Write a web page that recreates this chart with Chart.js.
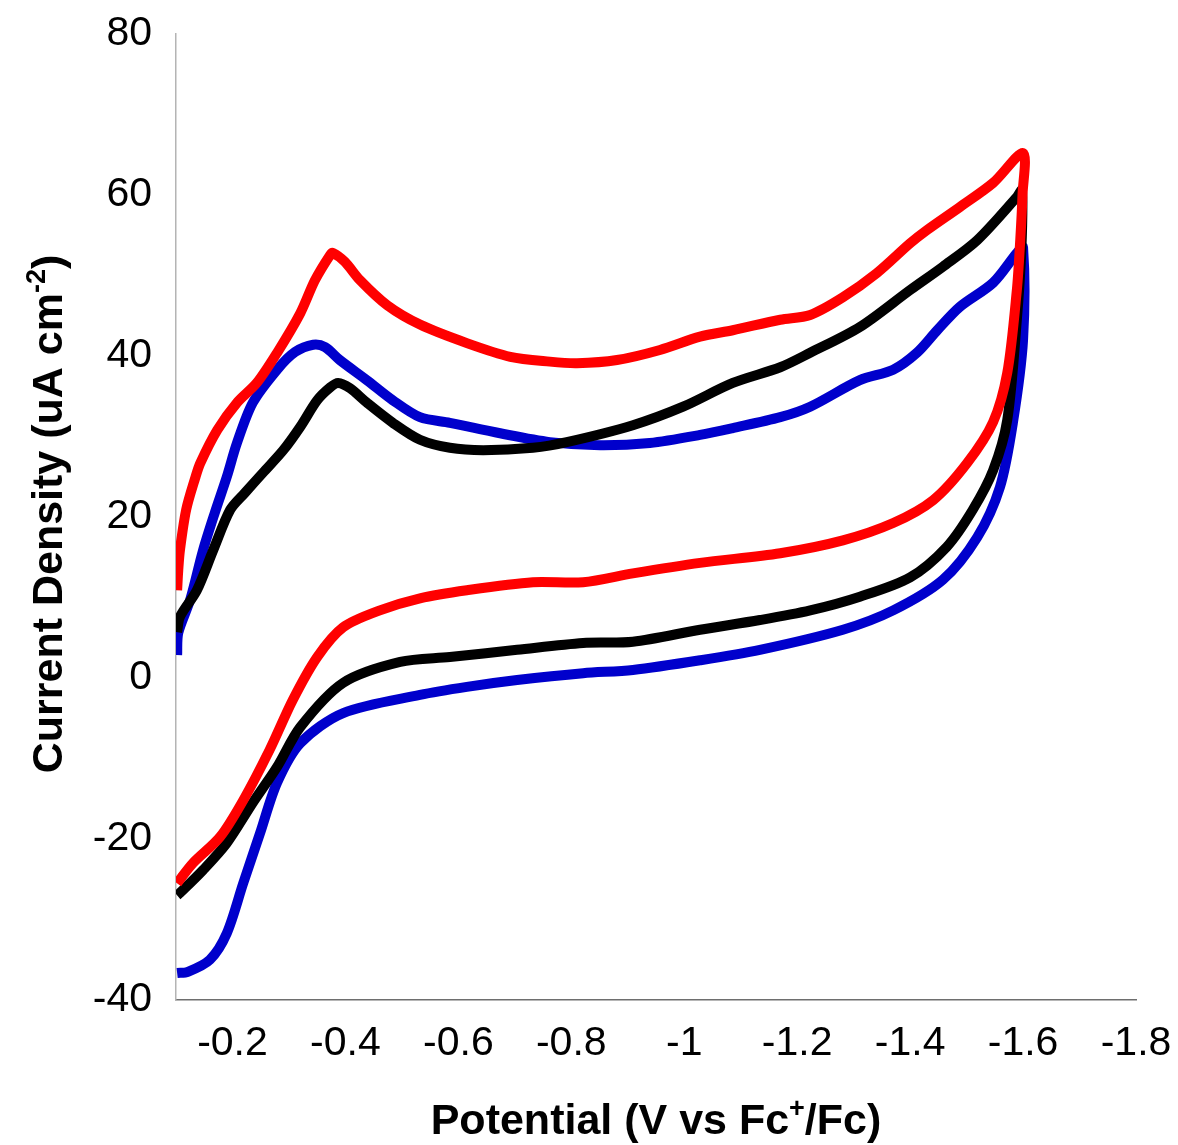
<!DOCTYPE html>
<html>
<head>
<meta charset="utf-8">
<script src="https://cdn.jsdelivr.net/npm/chart.js@4.4.1/dist/chart.umd.min.js"></script>
<style>
  body { margin: 0; background: #fff; }
  #wrap { width: 1178px; height: 1145px; }
</style>
</head>
<body>
<div id="wrap"><canvas id="cv" width="1178" height="1145"></canvas></div>
<script>
// Ticks
const xTicks = [-0.2, -0.4, -0.6, -0.8, -1, -1.2, -1.4, -1.6, -1.8];
const yTicks = [-40, -20, 0, 20, 40, 60, 80];

// Red curve (potential V, current density uA cm-2), path order
const redV = [-0.102, -0.104, -0.107, -0.118, -0.134, -0.143, -0.173, -0.208, -0.243, -0.279, -0.320, -0.346, -0.373, -0.378,
    -0.399, -0.426, -0.474, -0.532, -0.615, -0.692, -0.762, -0.810, -0.881, -0.957, -1.028, -1.086, -1.170,
    -1.223, -1.281, -1.341, -1.400, -1.430, -1.488, -1.547, -1.600,
    -1.599, -1.595, -1.589, -1.572, -1.547, -1.501, -1.441, -1.370, -1.281, -1.170, -1.028, -0.909, -0.821, -0.732, -0.615,
    -0.532, -0.461, -0.396, -0.350, -0.307, -0.266, -0.219, -0.178, -0.130, -0.102];
const redJ = [10.9, 13.4, 15.9, 20.9, 24.85, 26.7, 30.8, 34.2, 36.65, 40.4, 45.3, 49.4, 52.55, 52.8,
    51.7, 49.4, 46.3, 43.9, 41.6, 39.9, 39.3, 39.1, 39.5, 40.75, 42.4, 43.2, 44.5,
    45.1, 47.3, 50.3, 54.0, 55.65, 58.5, 61.5, 65.2,
    60.0, 54.4, 48.2, 37.9, 31.8, 26.7, 22.1, 19.25, 17.1, 15.5, 14.3, 13.0, 11.9, 11.9, 10.9,
    9.9, 8.4, 6.3, 2.6, -2.7, -8.9, -15.2, -19.75, -23.0, -25.5];

// Black curve
const blackV = [-0.102, -0.107, -0.137, -0.166, -0.196, -0.222, -0.254, -0.290, -0.320, -0.350, -0.373, -0.387, -0.408,
    -0.438, -0.484, -0.532, -0.585, -0.644, -0.732, -0.792, -0.909, -0.998, -1.086, -1.170, -1.223, -1.311, -1.400,
    -1.458, -1.519, -1.589, -1.598,
    -1.597, -1.589, -1.572, -1.547, -1.511, -1.465, -1.400, -1.311, -1.223, -1.134, -1.028, -0.909, -0.821, -0.704,
    -0.585, -0.497, -0.396, -0.320, -0.279, -0.236, -0.190, -0.148, -0.107, -0.102];
const blackJ = [5.7, 7.6, 10.9, 15.9, 20.9, 23.0, 25.5, 28.3, 31.2, 34.5, 36.1, 36.65, 36.0,
    34.2, 31.7, 29.6, 28.6, 28.3, 28.6, 29.3, 31.4, 33.7, 36.65, 38.6, 40.4, 43.6, 48.2,
    51.1, 54.4, 59.75, 60.6,
    53.2, 44.5, 32.05, 25.8, 20.9, 16.3, 12.5, 10.1, 8.4, 7.2, 6.0, 4.5, 4.35, 3.5,
    2.6, 2.0, -0.6, -6.1, -11.05, -15.5, -20.5, -23.85, -26.7, -27.0];

// Blue curve
const blueV = [-0.102, -0.104, -0.125, -0.148, -0.169, -0.190, -0.208, -0.236, -0.279, -0.311, -0.343, -0.364, -0.390,
    -0.438, -0.484, -0.532, -0.585, -0.674, -0.762, -0.851, -0.939, -1.028, -1.086, -1.170, -1.223, -1.311, -1.370,
    -1.412, -1.448, -1.488, -1.547, -1.589, -1.600,
    -1.600, -1.582, -1.559, -1.519, -1.458, -1.370, -1.281, -1.134, -1.028, -0.909, -0.821, -0.704, -0.615, -0.532,
    -0.396, -0.320, -0.279, -0.249, -0.219, -0.190, -0.160, -0.121, -0.102];
const blueJ = [2.85, 5.6, 9.7, 15.9, 20.6, 25.0, 29.2, 34.2, 38.3, 40.5, 41.4, 41.1, 39.5,
    37.0, 34.5, 32.4, 31.7, 30.4, 29.3, 28.9, 29.2, 30.2, 31.05, 32.4, 33.7, 37.0, 38.3,
    40.4, 43.2, 46.1, 49.1, 52.8, 53.5,
    42.0, 31.7, 23.7, 17.5, 12.2, 8.4, 6.0, 3.5, 2.2, 1.0, 0.6, -0.25, -1.1, -2.1,
    -4.35, -8.1, -13.0, -19.25, -25.5, -31.7, -35.0, -36.5, -36.65];

// Titulos de ejes
const xTitleParts = [{ t: 'Potential (V vs Fc' }, { t: '+', sup: true }, { t: '/Fc)' }];
const yTitleParts = [{ t: 'Current Density (uA cm' }, { t: '-2', sup: true }, { t: ')' }];

const FONT = "'Liberation Sans', Arial, sans-serif";

function toPoints(vs, js) {
    return vs.map((v, i) => ({ x: v, y: js[i] }));
}

// Dibuja texto con superindice
function drawRich(ctx, parts, cx, cy, angle) {
    const mainFont = 'bold 43px ' + FONT;
    const supFont = 'bold 27px ' + FONT;
    let total = 0;
    parts.forEach(p => {
        ctx.font = p.sup ? supFont : mainFont;
        p.w = ctx.measureText(p.t).width;
        total += p.w;
    });
    ctx.save();
    ctx.translate(cx, cy);
    ctx.rotate(angle);
    ctx.fillStyle = '#000';
    ctx.textBaseline = 'alphabetic';
    ctx.textAlign = 'left';
    let x = -total / 2;
    parts.forEach(p => {
        ctx.font = p.sup ? supFont : mainFont;
        ctx.fillText(p.t, x, p.sup ? -17 : 0);
        x += p.w;
    });
    ctx.restore();
}

const titlePlugin = {
    id: 'axisTitles',
    afterDraw(chart) {
        const ctx = chart.ctx;
        const area = chart.chartArea;
        drawRich(ctx, xTitleParts, (area.left + area.right) / 2, 1134, 0);
        drawRich(ctx, yTitleParts, 62, (area.top + area.bottom) / 2 - 3, -Math.PI / 2);
    }
};

// Quitar el margen extra que Chart.js deja para las etiquetas
function noOverhang(scale) {
    scale.paddingTop = 0;
    scale.paddingBottom = 0;
    scale.paddingLeft = 0;
    scale.paddingRight = 0;
}

const lineStyle = {
    showLine: true,
    pointRadius: 0,
    borderWidth: 10,
    tension: 0.3,
    borderJoinStyle: 'round',
    fill: false
};

new Chart(document.getElementById('cv'), {
    type: 'scatter',
    data: {
        datasets: [
            Object.assign({ label: 'red', data: toPoints(redV, redJ), borderColor: '#FF0000' }, lineStyle),
            Object.assign({ label: 'black', data: toPoints(blackV, blackJ), borderColor: '#000000' }, lineStyle),
            Object.assign({ label: 'blue', data: toPoints(blueV, blueJ), borderColor: '#0000CC' }, lineStyle)
        ]
    },
    options: {
        responsive: false,
        animation: false,
        layout: { padding: { top: 34, right: 42, left: 0, bottom: 0 } },
        plugins: {
            legend: { display: false },
            tooltip: { enabled: false }
        },
        scales: {
            x: {
                type: 'linear',
                min: -1.8,
                max: -0.1,
                reverse: true,
                afterBuildTicks: scale => { scale.ticks = xTicks.map(v => ({ value: v })); },
                afterFit: scale => { scale.height = 145; noOverhang(scale); },
                grid: { display: true, drawOnChartArea: false, drawTicks: false },
                border: { display: true, color: '#6e6e6e', width: 1.5 },
                ticks: {
                    color: '#000',
                    font: { family: FONT, size: 41 },
                    padding: 19,
                    maxRotation: 0,
                    autoSkip: false,
                    callback: v => String(Math.round(v * 10) / 10)
                }
            },
            y: {
                type: 'linear',
                min: -40,
                max: 80,
                afterBuildTicks: scale => { scale.ticks = yTicks.map(v => ({ value: v })); },
                afterFit: scale => { scale.width = 176; noOverhang(scale); },
                grid: { display: true, drawOnChartArea: false, drawTicks: false },
                border: { display: true, color: '#b4b4b4', width: 1.5 },
                ticks: {
                    color: '#000',
                    font: { family: FONT, size: 41 },
                    padding: 24,
                    autoSkip: false,
                    callback: v => String(v)
                }
            }
        }
    },
    plugins: [titlePlugin]
});
</script>
</body>
</html>
